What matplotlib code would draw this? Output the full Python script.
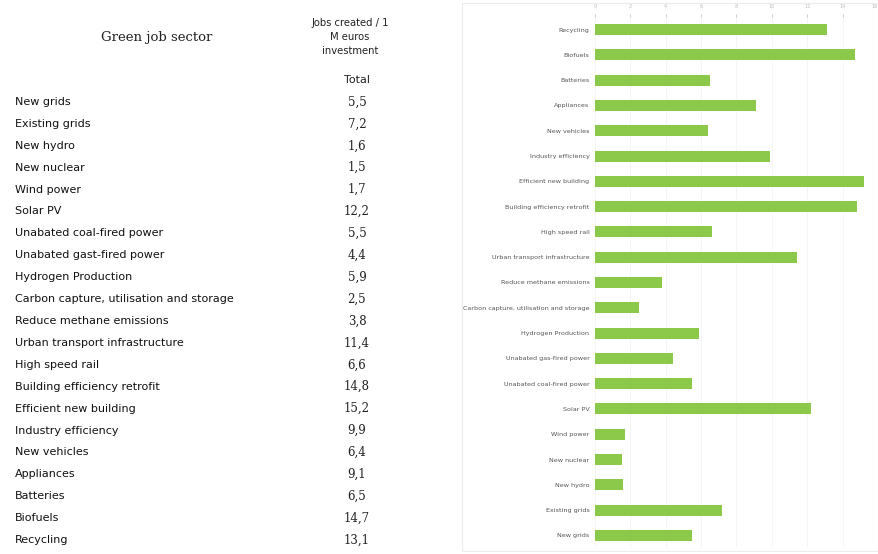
import matplotlib.pyplot as plt
from matplotlib.patches import Rectangle

# dados da tabela (ordem da tabela, de cima para baixo)
setores = ['New grids', 'Existing grids', 'New hydro', 'New nuclear', 'Wind power',
           'Solar PV', 'Unabated coal-fired power', 'Unabated gast-fired power',
           'Hydrogen Production', 'Carbon capture, utilisation and storage',
           'Reduce methane emissions', 'Urban transport infrastructure', 'High speed rail',
           'Building efficiency retrofit', 'Efficient new building', 'Industry efficiency',
           'New vehicles', 'Appliances', 'Batteries', 'Biofuels', 'Recycling']
empregos = [5.5, 7.2, 1.6, 1.5, 1.7, 12.2, 5.5, 4.4, 5.9, 2.5, 3.8, 11.4, 6.6,
            14.8, 15.2, 9.9, 6.4, 9.1, 6.5, 14.7, 13.1]

# rotulos do grafico (como aparecem na imagem)
rotulos_grafico = ['New grids', 'Existing grids', 'New hydro', 'New nuclear', 'Wind power',
                   'Solar PV', 'Unabated coal-fired power', 'Unabated gas-fired power',
                   'Hydrogen Production', 'Carbon capture, utilisation and storage',
                   'Reduce methane emissions', 'Urban transport infrastructure',
                   'High speed rail', 'Building efficiency retrofit', 'Efficient new building',
                   'Industry efficiency', 'New vehicles', 'Appliances', 'Batteries',
                   'Biofuels', 'Recycling']
ticks_x = [0, 2, 4, 6, 8, 10, 12, 14, 16]

W, H = 879, 554
fig = plt.figure(figsize=(W / 100, H / 100), dpi=100)

# ---- tabela a esquerda ----
fig.text(157 / W, 1 - 37 / H, 'Green job sector', family='DejaVu Serif', fontsize=9.5,
         color='#222222', ha='center', va='center')
fig.text(350 / W, 1 - 37 / H, 'Jobs created / 1\nM euros\ninvestment', fontsize=7.2,
         color='#222222', ha='center', va='center', linespacing=1.55)
fig.text(357 / W, 1 - 80 / H, 'Total', fontsize=8, color='#222222', ha='center', va='center')

y0, dy = 102, 21.9
for i, (nome, v) in enumerate(zip(setores, empregos)):
    y = 1 - (y0 + i * dy) / H
    fig.text(15 / W, y, nome, fontsize=8, color='#111111', ha='left', va='center')
    fig.text(357 / W, y, f'{v:.1f}'.replace('.', ','), family='DejaVu Serif', fontsize=8.5,
             color='#222222', ha='center', va='center')

# ---- moldura do grafico ----
fig.patches.append(Rectangle((462 / W, 1 - 551 / H), (W - 463) / W, 548 / H,
                             transform=fig.transFigure, fill=False, edgecolor='#ececec',
                             linewidth=0.8))

# ---- grafico de barras ----
ax = fig.add_axes([595 / W, 1 - 548 / H, 283 / W, 531 / H])
pos = list(range(len(rotulos_grafico)))
ax.barh(pos, empregos, height=0.44, color='#8cc94a')
ax.set_ylim(-0.5, len(pos) - 0.5)
ax.set_xlim(0, 16)
ax.set_yticks(pos)
ax.set_yticklabels(rotulos_grafico, fontsize=4.6, color='#555555')
ax.set_xticks(ticks_x)
ax.xaxis.tick_top()
ax.tick_params(axis='x', labelsize=3.5, colors='#bbbbbb', length=2, width=0.5)
ax.tick_params(axis='y', length=0, pad=4)
ax.get_xticklabels()[-1].set_horizontalalignment('right')
ax.grid(axis='x', color='#f4f4f4', linewidth=0.6)
ax.set_axisbelow(True)
for s in ax.spines.values():
    s.set_visible(False)

plt.savefig('out.png', dpi=100)
